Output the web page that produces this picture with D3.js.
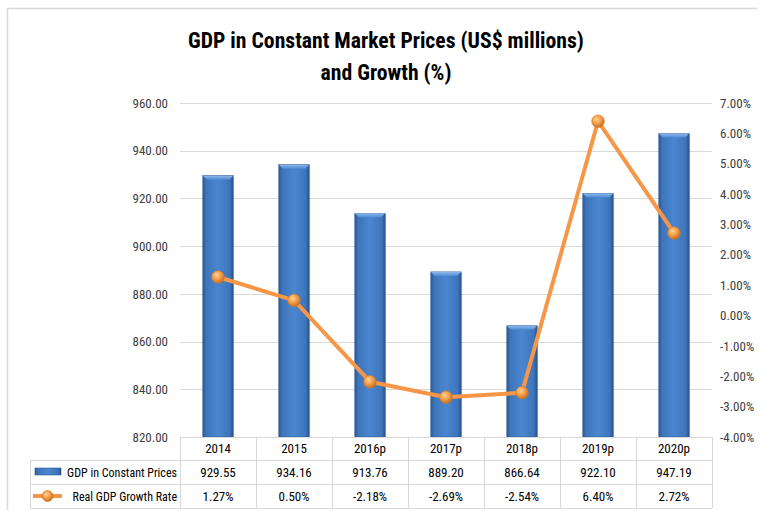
<!DOCTYPE html>
<html><head><meta charset="utf-8">
<script src="https://cdn.jsdelivr.net/npm/d3@7/dist/d3.min.js"></script>
<style>body{margin:0;background:#fff}svg{display:block}</style>
</head><body>
<script>
const categories = ["2014","2015","2016p","2017p","2018p","2019p","2020p"];
const gdpValues = [929.55,934.16,913.76,889.20,866.64,922.10,947.19];
const growthValues = [1.27,0.50,-2.18,-2.69,-2.54,6.40,2.72];
const leftTicks = [820,840,860,880,900,920,940,960];
const rightTicks = [-4,-3,-2,-1,0,1,2,3,4,5,6,7];
const seriesNames = ["GDP in Constant Prices","Real GDP Growth Rate"];

const W=767,H=510;
const font = "'Liberation Sans Narrow','Arial Narrow','Roboto Condensed',sans-serif";
const fmt2 = d => d.toFixed(2);
const fmtPct = d => d.toFixed(2) + "%";
const svg = d3.select("body").append("svg").attr("width",W).attr("height",H);
const defs = svg.append("defs");
const bg = defs.append("linearGradient").attr("id","barg").attr("x1","0").attr("x2","1").attr("y1","0").attr("y2","0");
[[0,"#2d5a94"],[0.12,"#3e75bb"],[0.5,"#4a86cf"],[0.88,"#3e75bb"],[1,"#2a548b"]].forEach(s=>bg.append("stop").attr("offset",s[0]).attr("stop-color",s[1]));
const tg = defs.append("linearGradient").attr("id","bart").attr("x1","0").attr("x2","0").attr("y1","0").attr("y2","1");
[[0,"#8fb8ea"],[1,"#4f8bd3"]].forEach(s=>tg.append("stop").attr("offset",s[0]).attr("stop-color",s[1]));
const mg = defs.append("radialGradient").attr("id","mk").attr("cx","0.4").attr("cy","0.35").attr("r","0.65");
[[0,"#ffd39a"],[0.5,"#f5a04a"],[1,"#c8701e"]].forEach(s=>mg.append("stop").attr("offset",s[0]).attr("stop-color",s[1]));

// chart border
svg.append("path").attr("d","M7.5,510 V8.5 H757").attr("fill","none").attr("stroke","#d9d9d9").attr("stroke-width",1.5);

// title
svg.append("text").attr("x",386).attr("y",48).attr("text-anchor","middle").attr("font-family",font).attr("font-weight","bold").attr("font-size",21.7).attr("fill","#000").text("GDP in Constant Market Prices (US$ millions)");
svg.append("text").attr("x",386).attr("y",80).attr("text-anchor","middle").attr("font-family",font).attr("font-weight","bold").attr("font-size",21.7).attr("fill","#000").text("and Growth (%)");

const x0=180,x1=712,yTop=103,yBot=437;
const x = d3.scaleBand().domain(categories).range([x0,x1]).paddingInner(0.6).paddingOuter(0.3);
const yL = d3.scaleLinear().domain([820,960]).range([yBot,yTop]);
const yR = d3.scaleLinear().domain([-4,7]).range([yBot,yTop]);

// gridlines
svg.append("g").selectAll("line").data(leftTicks.slice(1)).join("line")
 .attr("x1",x0).attr("x2",x1).attr("y1",d=>Math.round(yL(d))+0.5).attr("y2",d=>Math.round(yL(d))+0.5)
 .attr("stroke","#d9d9d9").attr("stroke-width",1);

// left axis
const gl = svg.append("g").attr("transform",`translate(${x0},0)`)
 .call(d3.axisLeft(yL).tickValues(leftTicks).tickFormat(fmt2).tickSize(0).tickPadding(12));
gl.select(".domain").remove();
gl.selectAll("text").attr("font-family",font).attr("font-size",13).attr("fill","#404040");
// right axis
const gr = svg.append("g").attr("transform",`translate(${x1},0)`)
 .call(d3.axisRight(yR).tickValues(rightTicks).tickFormat(fmtPct).tickSize(0).tickPadding(8));
gr.select(".domain").remove();
gr.selectAll("text").attr("font-family",font).attr("font-size",13).attr("fill","#404040");

// bars
const bars = svg.append("g").selectAll("g").data(categories).join("g");
bars.append("rect").attr("x",d=>x(d)+1).attr("y",(d,i)=>yL(gdpValues[i])+1).attr("width",x.bandwidth()).attr("height",(d,i)=>yBot-yL(gdpValues[i])).attr("fill","#000").attr("opacity",0.12);
bars.append("rect").attr("x",d=>x(d)).attr("y",(d,i)=>yL(gdpValues[i])).attr("width",x.bandwidth()).attr("height",(d,i)=>yBot-yL(gdpValues[i])).attr("fill","url(#barg)").attr("stroke","#2d5a94").attr("stroke-width",0.6);
bars.append("path").attr("d",(d,i)=>{const bx=x(d),by=yL(gdpValues[i]),bw=x.bandwidth();return `M${bx},${by} H${bx+bw} L${bx+bw-4},${by+4} H${bx+4} Z`;}).attr("fill","url(#bart)");

// line
const line = d3.line().x((d,i)=>x(categories[i])+x.bandwidth()/2).y(d=>yR(d));
svg.append("path").datum(growthValues).attr("d",line).attr("fill","none").attr("stroke","#f79646").attr("stroke-width",4).attr("stroke-linejoin","round");
svg.append("g").selectAll("circle").data(growthValues).join("circle")
 .attr("cx",(d,i)=>x(categories[i])+x.bandwidth()/2).attr("cy",d=>yR(d)).attr("r",6.3)
 .attr("fill","url(#mk)").attr("stroke","#d07a2a").attr("stroke-width",0.6);

// data table
const tl=30, rowY=[437,460,484,508];
const tbl = svg.append("g").attr("stroke","#d9d9d9").attr("stroke-width",1).attr("fill","none");
tbl.append("line").attr("x1",x0).attr("x2",x1).attr("y1",rowY[0]+0.5).attr("y2",rowY[0]+0.5);
tbl.append("line").attr("x1",tl).attr("x2",x1).attr("y1",rowY[1]+0.5).attr("y2",rowY[1]+0.5);
tbl.append("line").attr("x1",tl).attr("x2",x1).attr("y1",rowY[2]+0.5).attr("y2",rowY[2]+0.5);
tbl.append("line").attr("x1",tl).attr("x2",x1).attr("y1",rowY[3]+0.5).attr("y2",rowY[3]+0.5);
tbl.append("line").attr("x1",tl+0.5).attr("x2",tl+0.5).attr("y1",rowY[1]).attr("y2",rowY[3]);
const colEdges = d3.range(categories.length+1).map(i=>x0+i*x.step());
tbl.selectAll(".v").data(colEdges).join("line").attr("x1",d=>Math.round(d)+0.5).attr("x2",d=>Math.round(d)+0.5).attr("y1",rowY[0]).attr("y2",rowY[3]);

const tt = svg.append("g").attr("font-family",font).attr("font-size",13).attr("fill","#000").attr("text-anchor","middle");
tt.selectAll(".c").data(categories).join("text").attr("x",d=>x(d)+x.bandwidth()/2).attr("y",453).text(d=>d);
tt.selectAll(".g").data(gdpValues).join("text").attr("x",(d,i)=>x(categories[i])+x.bandwidth()/2).attr("y",477).text(fmt2);
tt.selectAll(".r").data(growthValues).join("text").attr("x",(d,i)=>x(categories[i])+x.bandwidth()/2).attr("y",501).text(fmtPct);

// legend keys
svg.append("rect").attr("x",35).attr("y",468).attr("width",26).attr("height",7).attr("fill","url(#barg)").attr("stroke","#2d5a94").attr("stroke-width",0.6);
svg.append("line").attr("x1",33).attr("x2",62).attr("y1",496).attr("y2",496).attr("stroke","#f79646").attr("stroke-width",4);
svg.append("circle").attr("cx",47.5).attr("cy",496).attr("r",5.5).attr("fill","url(#mk)").attr("stroke","#d07a2a").attr("stroke-width",0.6);
const lt = svg.append("g").attr("font-family",font).attr("font-size",12).attr("fill","#000").attr("text-anchor","end");
lt.append("text").attr("x",177).attr("y",477).text(seriesNames[0]);
lt.append("text").attr("x",177).attr("y",501).text(seriesNames[1]);
</script>
</body></html>
